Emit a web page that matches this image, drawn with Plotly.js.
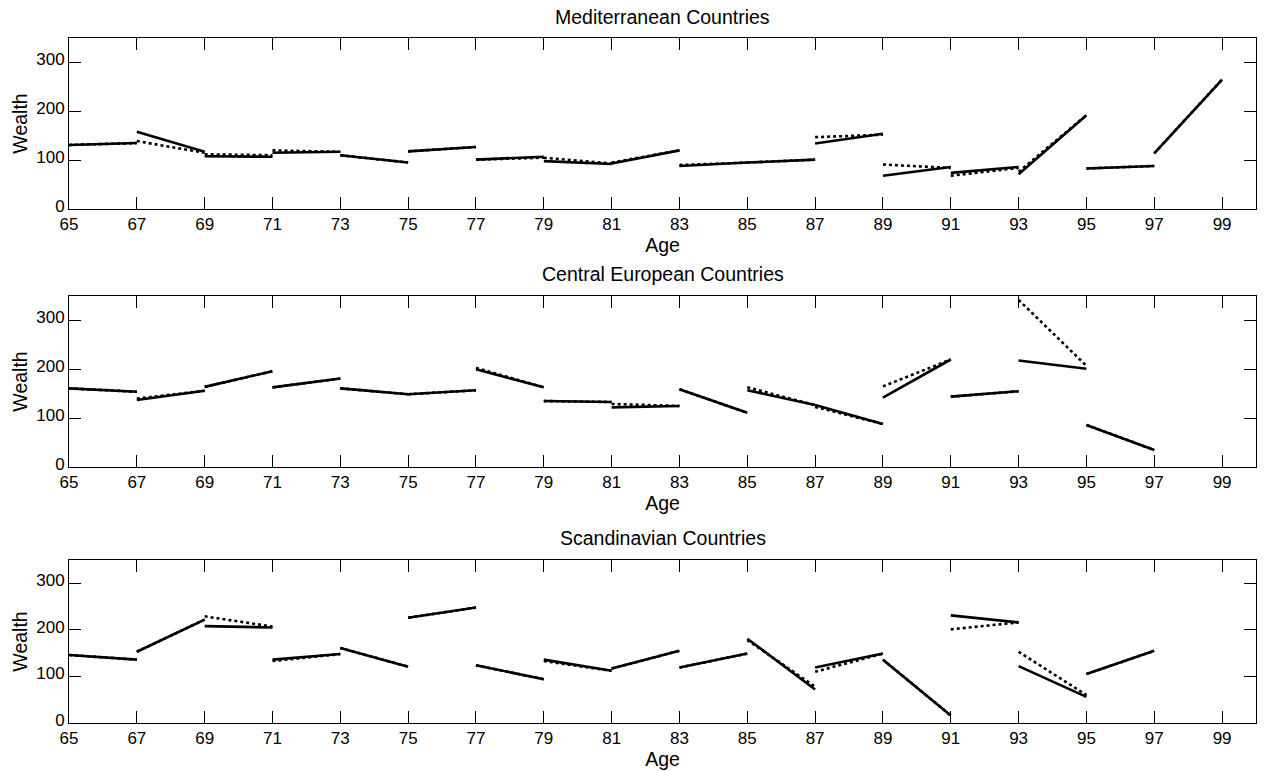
<!DOCTYPE html>
<html>
<head>
<meta charset="utf-8">
<script src="https://cdn.plot.ly/plotly-3.0.1.min.js"></script>
<style>
html,body{margin:0;padding:0;background:#fff;}
#chart{width:1273px;height:771px;}
</style>
</head>
<body>
<div id="chart"></div>
<script>
// Segment start ages (each segment spans two years)
const segStartAges = [65,67,69,71,73,75,77,79,81,83,85,87,89,91,93,95,97];
const xTickVals = [65,67,69,71,73,75,77,79,81,83,85,87,89,91,93,95,97,99];
const yTickVals = [0,100,200,300];
const panelTitles = ["Mediterranean Countries","Central European Countries","Scandinavian Countries"];

// Mediterranean
const medSolidStart = [131,158,108,115,110,118,101,98,93,88,95,134,68,74,71,83,114];
const medSolidEnd   = [135,117,107,117,95,127,107,92,120,95,101,154,86,86,192,88,265];
const medDotStart   = [131,139,112,120,110,118,101,105,95,90,95,147,91,68,76,83,114];
const medDotEnd     = [135,115,110,117,95,127,105,93,120,95,101,152,84,84,192,88,265];

// Central European
const cenSolidStart = [161,137,164,163,161,149,200,135,122,159,157,127,142,144,218,86,null];
const cenSolidEnd   = [154,156,196,181,149,157,163,133,125,111,127,88,220,155,201,35,null];
const cenDotStart   = [161,140,164,163,161,149,203,135,129,159,163,123,165,144,342,86,null];
const cenDotEnd     = [154,156,196,181,149,157,163,133,125,111,127,88,220,155,207,35,null];

// Scandinavian
const scaSolidStart = [146,153,208,136,161,226,124,136,117,119,181,119,136,231,122,105,null];
const scaSolidEnd   = [136,222,205,148,121,248,94,112,155,149,72,149,16,216,56,155,null];
const scaDotStart   = [146,153,229,133,161,226,124,133,117,119,178,110,136,201,153,105,null];
const scaDotEnd     = [136,222,207,148,121,248,94,112,155,149,78,149,16,216,60,155,null];

function segTrace(starts, ends, dash, axIdx){
  const x = [], y = [];
  segStartAges.forEach((a,i)=>{
    if(starts[i]==null || ends[i]==null) return;
    x.push(a, a+2, null);
    y.push(starts[i], ends[i], null);
  });
  const suf = axIdx===1 ? '' : String(axIdx);
  return {x:x, y:y, type:'scatter', mode:'lines',
    line:{color:'#000', width:2.6, dash:dash},
    xaxis:'x'+suf, yaxis:'y'+suf, hoverinfo:'skip', showlegend:false};
}

const data = [
  segTrace(medDotStart, medDotEnd, 'dot', 1),
  segTrace(medSolidStart, medSolidEnd, 'solid', 1),
  segTrace(cenDotStart, cenDotEnd, 'dot', 2),
  segTrace(cenSolidStart, cenSolidEnd, 'solid', 2),
  segTrace(scaDotStart, scaDotEnd, 'dot', 3),
  segTrace(scaSolidStart, scaSolidEnd, 'solid', 3)
];

const fontFam = 'Liberation Sans, Arial, sans-serif';
function xAx(anchor){
  return {anchor:anchor, range:[65,100], tickvals:xTickVals, ticktext:xTickVals.map(String),
    ticks:'inside', ticklen:12, tickwidth:1, tickcolor:'#000',
    showline:true, linecolor:'#000', linewidth:1, mirror:'ticks',
    showgrid:false, zeroline:false,
    tickfont:{family:fontFam, size:17, color:'#000'},
    title:{text:'Age', font:{family:fontFam, size:19.5, color:'#000'}, standoff:3},
    fixedrange:true};
}
function yAx(anchor, dom){
  return {anchor:anchor, domain:dom, range:[0,350], tickvals:yTickVals, ticktext:yTickVals.map(String),
    ticks:'inside', ticklen:12, tickwidth:1, tickcolor:'#000',
    showline:true, linecolor:'#000', linewidth:1, mirror:'ticks',
    showgrid:false, zeroline:false,
    tickfont:{family:fontFam, size:17, color:'#000'},
    ticklabelshift:-3,
    title:{text:'Wealth', font:{family:fontFam, size:19.5, color:'#000'}, standoff:3},
    fixedrange:true};
}

const domains = [[0.7504,1.0],[0.3737,0.6234],[0.0,0.238]];
const titleY = [16.5, 274, 538];

const layout = {
  width:1273, height:771,
  margin:{l:69, r:17, t:38, b:48},
  paper_bgcolor:'#fff', plot_bgcolor:'#fff',
  showlegend:false,
  font:{family:fontFam, color:'#000'},
  xaxis: xAx('y'), yaxis: yAx('x', domains[0]),
  xaxis2: xAx('y2'), yaxis2: yAx('x2', domains[1]),
  xaxis3: xAx('y3'), yaxis3: yAx('x3', domains[2]),
  annotations: panelTitles.map((t,i)=>({
    text:t, xref:'paper', yref:'paper', x:0.5,
    y: 1 - (titleY[i]-38)/685, yanchor:'middle', xanchor:'center',
    showarrow:false, font:{family:fontFam, size:19.5, color:'#000'}
  }))
};

Plotly.newPlot('chart', data, layout, {displayModeBar:false, staticPlot:true});
</script>
</body>
</html>
